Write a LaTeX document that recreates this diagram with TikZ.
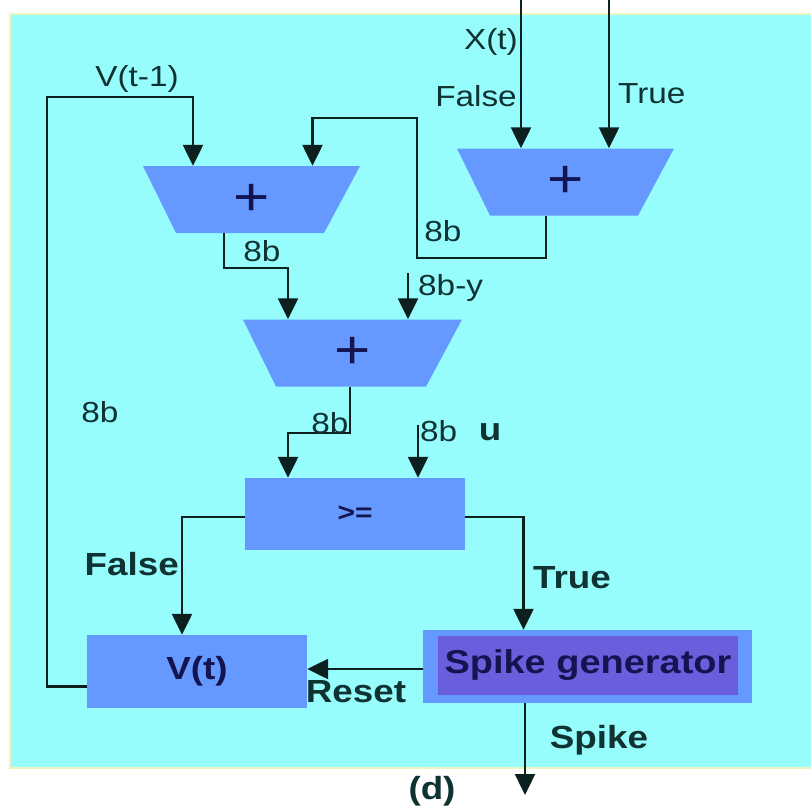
\documentclass[tikz,border=0pt]{standalone}
\usepackage{fontspec}
\setmainfont{Liberation Sans}[FakeStretch=1.15]
\usetikzlibrary{arrows.meta, calc}

\definecolor{bgcyan}{RGB}{150,252,252}
\definecolor{edgeyellow}{RGB}{235,245,190}
\definecolor{boxblue}{RGB}{102,153,255}
\definecolor{spkviolet}{RGB}{105,95,220}
\definecolor{boxtext}{RGB}{20,20,80}
\definecolor{wirecol}{RGB}{12,32,32}
\definecolor{lbltext}{RGB}{15,50,50}

\begin{document}
\begin{tikzpicture}[x=1pt, y=-1pt,
    adder/.style={rectangle, minimum width=217pt, minimum height=67pt, inner sep=0pt,
        text=boxtext, font=\fontsize{54}{54}\selectfont,
        path picture={\fill[boxblue] (path picture bounding box.north west)
            -- (path picture bounding box.north east)
            -- ([xshift=-36pt]path picture bounding box.south east)
            -- ([xshift=33pt]path picture bounding box.south west) -- cycle;}},
    block/.style={rectangle, fill=boxblue, inner sep=0pt, text=boxtext,
        minimum width=220pt, minimum height=72pt, font=\fontsize{32}{34}\selectfont\bfseries},
    lbl/.style={text=lbltext, inner sep=0pt, font=\fontsize{29}{31}\selectfont},
    blbl/.style={text=lbltext, inner sep=0pt, font=\fontsize{32}{34}\selectfont\bfseries},
    wire/.style={line width=2.4pt, draw=wirecol},
    arr/.style={wire, -{Triangle[length=21pt, width=20pt]}}
]

% rand og baggrund
\useasboundingbox (0,0) rectangle (811,812);
\fill[bgcyan, draw=edgeyellow, line width=2pt] (10,14) rectangle (812,768);

% blokke
\node[adder] (addL) at (251.5,199.5) {+};
\node[adder] (addR) at (565.5,182) {+};
\node[adder, minimum width=219pt] (addM) at (352.5,353) {+};
\node[block, font=\fontsize{26}{28}\selectfont\bfseries] (cmp) at (355,514) {>=};
\node[block, minimum height=73pt] (vt) at (197,671.5) {V(t)};
\node[block, minimum width=329pt, minimum height=73pt] (spk) at (587.5,666.5) {};
\node[rectangle, fill=spkviolet, inner sep=0pt, minimum width=300pt, minimum height=59pt,
    text=boxtext, font=\fontsize{33}{35}\selectfont\bfseries] (spkin) at (588,665.5) {Spike generator};

% indgange
\coordinate (xin) at (521,0);
\coordinate (tin) at (609,0);
\coordinate (yin) at (408,273);
\coordinate (uin) at (418,425);
\coordinate (sout) at (525,795);
\coordinate (fbV) at (47,97);
\coordinate (fbF) at (417,118);

\draw[arr] (xin) -- (xin |- addR.north);
\draw[arr] (tin) -- (tin |- addR.north);
\draw[arr] (yin) -- (yin |- addM.north);
\draw[arr] (uin) -- (uin |- cmp.north);

% tilbagekobling
\draw[arr] ([yshift=-15pt]vt.west) -| (fbV) -| ([xshift=-58.5pt]addL.north);
\draw[arr] ([xshift=-19.5pt]addR.south) -- ++(0,42) -| (fbF) -| ([xshift=61pt]addL.north);

% summer og sammenligning
\draw[arr] ([xshift=-27.5pt]addL.south) -- ++(0,35) -| ([xshift=-64.5pt]addM.north);
\draw[arr] ([xshift=-2.5pt]addM.south) -- ++(0,46) -| ([xshift=-67pt]cmp.north);
\draw[arr] ([yshift=-3pt]cmp.west) -| ([xshift=-15pt]vt.north);
\draw[arr] ([yshift=-3pt]cmp.east) -| ([xshift=-64pt]spk.north);
\draw[arr] ([yshift=-2.5pt]spk.west) -- ([yshift=-2.5pt]spk.west -| vt.east);
\draw[arr] (sout |- spk.south) -- (sout);

% tekster
\node[lbl, anchor=east] (lxt) at (518,42) {X(t)};
\node[lbl, anchor=east] (lfalse) at (517,96) {False};
\node[lbl, anchor=west] (ltrue) at (618,94) {True};
\node[lbl] (lvprev) at (137,79) {V(t-1)};
\node[lbl] (lbR) at (443,231) {8b};
\node[lbl] (lbL) at (262,251) {8b};
\node[lbl] (lbfb) at (100,412) {8b};
\node[lbl, anchor=west] (lby) at (418,288) {8b-y};
\node[lbl] (lbM) at (330,423) {8b};
\node[lbl, anchor=west] (lbu) at (420,431) {8b};
\node[blbl] (lu) at (490,432) {u};
\node[blbl, anchor=east] (lfalse2) at (179,564) {False};
\node[blbl, anchor=west] (ltrue2) at (533,578) {True};
\node[blbl] (lreset) at (356,692) {Reset};
\node[blbl] (lspike) at (599,740) {Spike};
\node[blbl] (ld) at (432,791) {(d)};

\end{tikzpicture}
\end{document}
